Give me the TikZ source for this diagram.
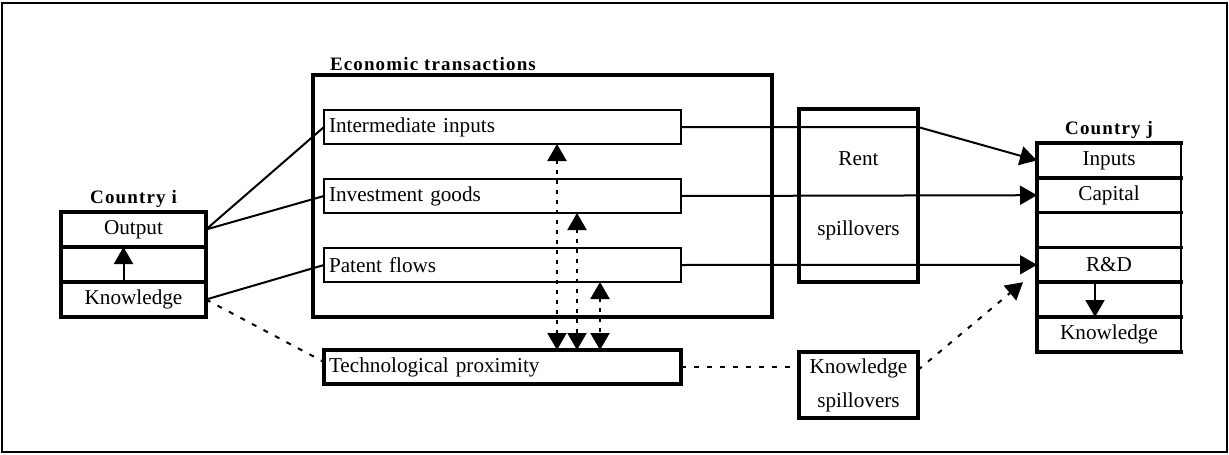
\documentclass[tikz,border=0pt]{standalone}
\usepackage{fontspec}
\setmainfont{Liberation Serif}
\newfontfamily\spacedfont{Liberation Serif}[LetterSpace=6]
\usetikzlibrary{positioning,arrows.meta}

\begin{document}
\begin{tikzpicture}[x=1pt,y=-1pt,
  font=\fontsize{21.2}{24}\selectfont,
  every node/.style={inner sep=0pt,outer sep=0pt},
  title/.style={font=\spacedfont\bfseries\fontsize{19}{22}\selectfont},
  cell/.style={draw,line width=3.5pt,minimum width=145pt,minimum height=35pt},
  jcell/.style={minimum width=144pt,minimum height=34.8pt},
  flow/.style={draw,line width=2.5pt,text width=347pt,inner xsep=5pt,minimum height=34pt,align=left},
  heavy/.style={line width=3.5pt,line cap=rect},
  conn/.style={line width=2pt},
  arrowtip/.style={-{Triangle[length=17pt,width=19pt]}},
  dashconn/.style={line width=2pt,dash pattern=on 5pt off 8pt},
  dotconn/.style={line width=2.2pt,dash pattern=on 4pt off 6pt,{Triangle[length=17pt,width=19pt]}-{Triangle[length=17pt,width=19pt]}}]
\useasboundingbox (0,0) rectangle (1229,455);
\draw[line width=2pt] (2,3) rectangle (1227,452);

\node[draw,line width=4.5pt,minimum width=459pt,minimum height=242pt] (econ) at (542.5,196) {};
\node[title,anchor=base west] (econlabel) at (330,70) {Economic transactions};
\node[flow] (ii) at (502.5,127) {Intermediate inputs};
\node[flow] (ig) at (502.5,196) {Investment goods};
\node[flow] (pf) at (502.5,265) {Patent flows};
\node[flow,line width=4pt] (tp) at (502.5,367) {Technological proximity};

\node[draw,line width=3.5pt,minimum width=119pt,minimum height=173pt,align=center] (rent) at (858.5,195.5) {Rent\\[46pt]spillovers};
\node[draw,line width=3.5pt,minimum width=119pt,minimum height=66pt,align=center] (ks) at (858.5,385) {Knowledge\\[10pt]spillovers};

\node[cell] (io) at (133.5,229.5) {Output};
\node[cell,below=0pt of io] (im) {};
\node[cell,below=0pt of im] (ik) {Knowledge};
\node[title,above=4pt of io] (ci) {Country i};

\node[jcell] (jin) at (1109,160.4) {Inputs};
\node[jcell,below=0pt of jin] (jca) {Capital};
\node[jcell,below=0pt of jca] (jem) {};
\node[jcell,below=0pt of jem] (jrd) {R\&D};
\node[jcell,below=0pt of jrd] (jar) {};
\node[jcell,below=0pt of jar] (jkn) {Knowledge};
\node[title,above=4pt of jin] (cj) {Country j};
\foreach \r in {jin,jca,jem,jrd,jar,jkn}
  \draw[heavy] (\r.north west) -- (\r.north east);
\draw[heavy] (jkn.south west) -- (jkn.south east);
\draw[heavy] (jin.north west) -- (jkn.south west);
\draw[line width=1.2pt] (jin.north east) -- (jkn.south east);

\draw[conn,arrowtip] ([xshift=-10pt]ik.north) -- ([xshift=-10pt]io.south);
\draw[conn,arrowtip] ([xshift=-14pt]jrd.south) -- ([xshift=-14pt]jkn.north);

\draw[conn] (io.east) -- (ii.west);
\draw[conn] (io.east) -- (ig.west);
\draw[conn] (ik.east) -- (pf.west);
\draw[dashconn] (ik.east) -- ([yshift=5pt]tp.west);

\draw[conn,arrowtip] (ii.east) -- (rent.east |- ii.east) -- (jin.west);
\draw[conn,arrowtip] (ig.east) -- (jca.west);
\draw[conn,arrowtip] (pf.east) -- (jrd.west);

\draw[dotconn] ([xshift=54.5pt]ii.south) -- ([xshift=54.5pt]tp.north);
\draw[dotconn] ([xshift=74.5pt]ig.south) -- ([xshift=74.5pt]tp.north);
\draw[dotconn] ([xshift=97.5pt]pf.south) -- ([xshift=97.5pt]tp.north);

\draw[dashconn] (tp.east) -- (tp.east -| ks.west);
\coordinate (kshead) at ([xshift=-14pt]jrd.south west);
\draw[dashconn,arrowtip] ([yshift=15pt]ks.east) -- (kshead);
\end{tikzpicture}
\end{document}
